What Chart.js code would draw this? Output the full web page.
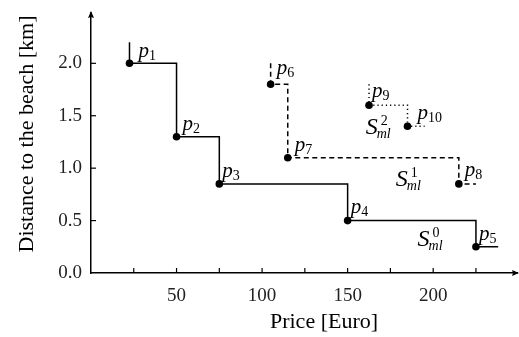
<!DOCTYPE html>
<html>
<head>
<meta charset="utf-8">
<script src="https://cdn.jsdelivr.net/npm/chart.js@4.4.1/dist/chart.umd.min.js"></script>
<style>
  html, body { margin: 0; padding: 0; background: #fff; }
  #wrap { width: 519px; height: 337px; }
</style>
</head>
<body>
<div id="wrap"><canvas id="chart"></canvas></div>
<script>
// staircase S0 (solid): corners incl. the lead-in and tail segments
const s0Price = [22.5, 22.5, 50, 75, 150, 225, 238];
const s0Dist  = [2.2, 2.0, 1.3, 0.85, 0.5, 0.25, 0.25];
const s0Names = ['', 'p1', 'p2', 'p3', 'p4', 'p5', ''];

// staircase S1 (dashed)
const s1Price = [105, 105, 115, 215, 225];
const s1Dist  = [2.0, 1.8, 1.1, 0.85, 0.85];
const s1Names = ['', 'p6', 'p7', 'p8', ''];

// staircase S2 (dotted)
const s2Price = [162.5, 162.5, 185, 195];
const s2Dist  = [1.8, 1.6, 1.4, 1.4];
const s2Names = ['', 'p9', 'p10', ''];

// set labels S^k_ml, in data coordinates (left of the S, on its baseline)
const setNames = ['0', '1', '2'];
const setPrice = [190.9, 178.2, 160.6];
const setDist  = [0.253, 0.827, 1.327];

const xTicks = [25, 50, 75, 100, 125, 150, 175, 200, 225];
const yTicks = [0.5, 1.0, 1.5, 2.0];

const SERIF = '"Liberation Serif", "DejaVu Serif", serif';

function toPoints(xs, ys) {
    return xs.map((x, i) => ({ x: x, y: ys[i] }));
}
function radii(names) {
    return names.map(n => n ? 3.8 : 0);
}

const stairs = [
    { price: s0Price, dist: s0Dist, names: s0Names, dash: [] },
    { price: s1Price, dist: s1Dist, names: s1Names, dash: [5, 3.5] },
    { price: s2Price, dist: s2Dist, names: s2Names, dash: [1.2, 3] }
];

// where each p label sits relative to its point (px)
const nameOffset = {
    p1: [9, -6], p2: [6, -7], p3: [3, -7], p4: [3, -8], p5: [3, -7],
    p6: [6, -10], p7: [7, -7], p8: [6, -8], p9: [3, -8], p10: [10, -7]
};

// draws inner ticks, axis arrows, point names, set labels and axis titles
const decorations = {
    id: 'decorations',
    afterDatasetsDraw(chart) {
        const ctx = chart.ctx;
        const xs = chart.scales.x, ys = chart.scales.y;
        const area = chart.chartArea;
        ctx.save();
        ctx.strokeStyle = '#000';
        ctx.fillStyle = '#000';
        ctx.lineWidth = 1.2;

        // inner ticks
        xTicks.forEach(v => {
            const px = xs.getPixelForValue(v);
            ctx.beginPath();
            ctx.moveTo(px, area.bottom);
            ctx.lineTo(px, area.bottom - 5);
            ctx.stroke();
        });
        yTicks.forEach(v => {
            const py = ys.getPixelForValue(v);
            ctx.beginPath();
            ctx.moveTo(area.left, py);
            ctx.lineTo(area.left + 5, py);
            ctx.stroke();
        });

        // arrow heads
        ctx.beginPath();
        ctx.moveTo(area.right + 2, area.bottom);
        ctx.lineTo(area.right - 5, area.bottom - 3);
        ctx.lineTo(area.right - 4, area.bottom);
        ctx.lineTo(area.right - 5, area.bottom + 3);
        ctx.closePath();
        ctx.fill();
        ctx.beginPath();
        ctx.moveTo(area.left, area.top - 2);
        ctx.lineTo(area.left - 3, area.top + 5);
        ctx.lineTo(area.left, area.top + 4);
        ctx.lineTo(area.left + 3, area.top + 5);
        ctx.closePath();
        ctx.fill();

        // point names p_i
        ctx.textBaseline = 'alphabetic';
        stairs.forEach(s => {
            s.names.forEach((n, i) => {
                if (!n) return;
                const px = xs.getPixelForValue(s.price[i]);
                const py = ys.getPixelForValue(s.dist[i]);
                const off = nameOffset[n];
                ctx.font = 'italic 21px ' + SERIF;
                ctx.fillText('p', px + off[0], py + off[1]);
                const w = ctx.measureText('p').width;
                ctx.font = '14px ' + SERIF;
                ctx.fillText(n.slice(1), px + off[0] + w, py + off[1] + 3);
            });
        });

        // set labels S^k_ml
        setNames.forEach((k, i) => {
            const px = xs.getPixelForValue(setPrice[i]);
            const py = ys.getPixelForValue(setDist[i]);
            ctx.font = 'italic 24px ' + SERIF;
            ctx.fillText('S', px, py);
            ctx.font = '14px ' + SERIF;
            ctx.fillText(k, px + 15, py - 9);
            ctx.font = 'italic 14px ' + SERIF;
            ctx.fillText('ml', px + 11, py + 4);
        });

        // axis titles
        ctx.font = '22px ' + SERIF;
        ctx.textAlign = 'center';
        ctx.textBaseline = 'middle';
        ctx.fillText('Price [Euro]', 324, 322);
        ctx.translate(27, 134);
        ctx.rotate(-Math.PI / 2);
        ctx.fillText('Distance to the beach [km]', 0, 0);
        ctx.restore();
    }
};

new Chart(document.getElementById('chart'), {
    type: 'scatter',
    data: {
        datasets: stairs.map(s => ({
            data: toPoints(s.price, s.dist),
            showLine: true,
            stepped: 'before',
            borderColor: '#000',
            borderWidth: 1.5,
            borderDash: s.dash,
            backgroundColor: '#000',
            pointRadius: radii(s.names),
            pointBorderWidth: 0,
            pointHoverRadius: radii(s.names)
        }))
    },
    options: {
        responsive: true,
        maintainAspectRatio: false,
        animation: false,
        layout: { padding: { top: 13, right: 2, left: 0, bottom: 0 } },
        plugins: {
            legend: { display: false },
            tooltip: { enabled: false }
        },
        scales: {
            x: {
                type: 'linear',
                min: 0,
                max: 249,
                afterFit: scale => {
                    scale.height = 64;
                    scale.paddingLeft = 0;
                    scale.paddingRight = 0;
                },
                grid: { display: false, drawTicks: false },
                border: { display: true, color: '#000', width: 1.5 },
                ticks: {
                    stepSize: 25,
                    includeBounds: false,
                    padding: 12,
                    color: '#222',
                    font: { family: SERIF, size: 19 },
                    callback: v => (v > 0 && v % 50 === 0) ? String(v) : ''
                }
            },
            y: {
                type: 'linear',
                min: 0,
                max: 2.48,
                afterFit: scale => {
                    scale.width = 91;
                    scale.paddingTop = 0;
                    scale.paddingBottom = 0;
                },
                grid: { display: false, drawTicks: false },
                border: { display: true, color: '#000', width: 1.5 },
                ticks: {
                    stepSize: 0.5,
                    includeBounds: false,
                    padding: 9,
                    color: '#222',
                    font: { family: SERIF, size: 19 },
                    callback: v => (Math.abs(v * 2 - Math.round(v * 2)) < 1e-6) ? v.toFixed(1) : ''
                }
            }
        }
    },
    plugins: [decorations]
});
</script>
</body>
</html>
